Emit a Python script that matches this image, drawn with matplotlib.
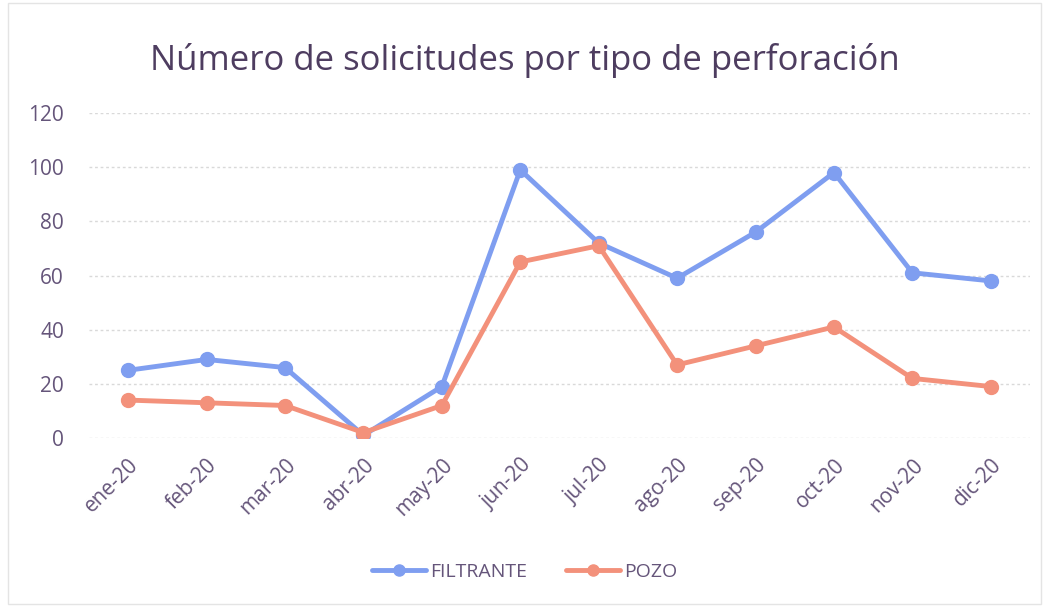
import matplotlib.pyplot as plt
import numpy as np

months = ["ene-20", "feb-20", "mar-20", "abr-20", "may-20", "jun-20",
          "jul-20", "ago-20", "sep-20", "oct-20", "nov-20", "dic-20"]
filtrante = [25, 29, 26, 1, 19, 99, 72, 59, 76, 98, 61, 58]
pozo = [14, 13, 12, 2, 12, 65, 71, 27, 34, 41, 22, 19]
y_ticks = [0, 20, 40, 60, 80, 100, 120]

BLUE = "#7f9ef0"
ORANGE = "#f3917b"
TEXT = "#65557a"

plt.rcParams["font.family"] = ["Open Sans", "DejaVu Sans"]

fig = plt.figure(figsize=(10.49, 6.07), dpi=100)
ax = fig.add_axes([89 / 1049, 1 - 438 / 607, (1030 - 89) / 1049, (438 - 113) / 607])

x = np.arange(len(months))
ax.plot(x, filtrante, color=BLUE, lw=3.5, marker="o", ms=10, label="FILTRANTE",
        solid_capstyle="round", zorder=3)
ax.plot(x, pozo, color=ORANGE, lw=3.5, marker="o", ms=10, label="POZO",
        solid_capstyle="round", zorder=3)

ax.set_xlim(-0.5, len(months) - 0.5)
ax.set_ylim(0, 120)
ax.set_yticks(y_ticks)
ax.set_yticklabels([str(v) for v in y_ticks], fontsize=15, color=TEXT)
ax.set_xticks(x)
ax.set_xticklabels(months, rotation=45, ha="right", rotation_mode="anchor",
                   fontsize=15, color=TEXT)
ax.tick_params(axis="y", length=0, pad=18)
ax.tick_params(axis="x", length=0, pad=12)
ax.grid(axis="y", color="#d9d9d9", lw=1, ls=(0, (2, 2)))
ax.set_axisbelow(True)
for side in ["top", "right", "left", "bottom"]:
    ax.spines[side].set_visible(False)

fig.text(0.5, 1 - 60 / 607, "Número de solicitudes por tipo de perforación",
         ha="center", va="center", fontsize=25, color="#4e3d60")

leg = fig.legend(loc="center", bbox_to_anchor=(0.5, 1 - 572 / 607), ncol=2,
                 frameon=False, fontsize=14, handlelength=2.8, columnspacing=2.0,
                 handletextpad=0.2, markerscale=0.8)
for t in leg.get_texts():
    t.set_color(TEXT)

fig.patches.append(plt.Rectangle((8 / 1049, 0.005), 1 - 16 / 1049, 0.99,
                                 transform=fig.transFigure, fill=False,
                                 edgecolor="#e4e4e4", lw=1))

fig.savefig("out.png", dpi=100)
